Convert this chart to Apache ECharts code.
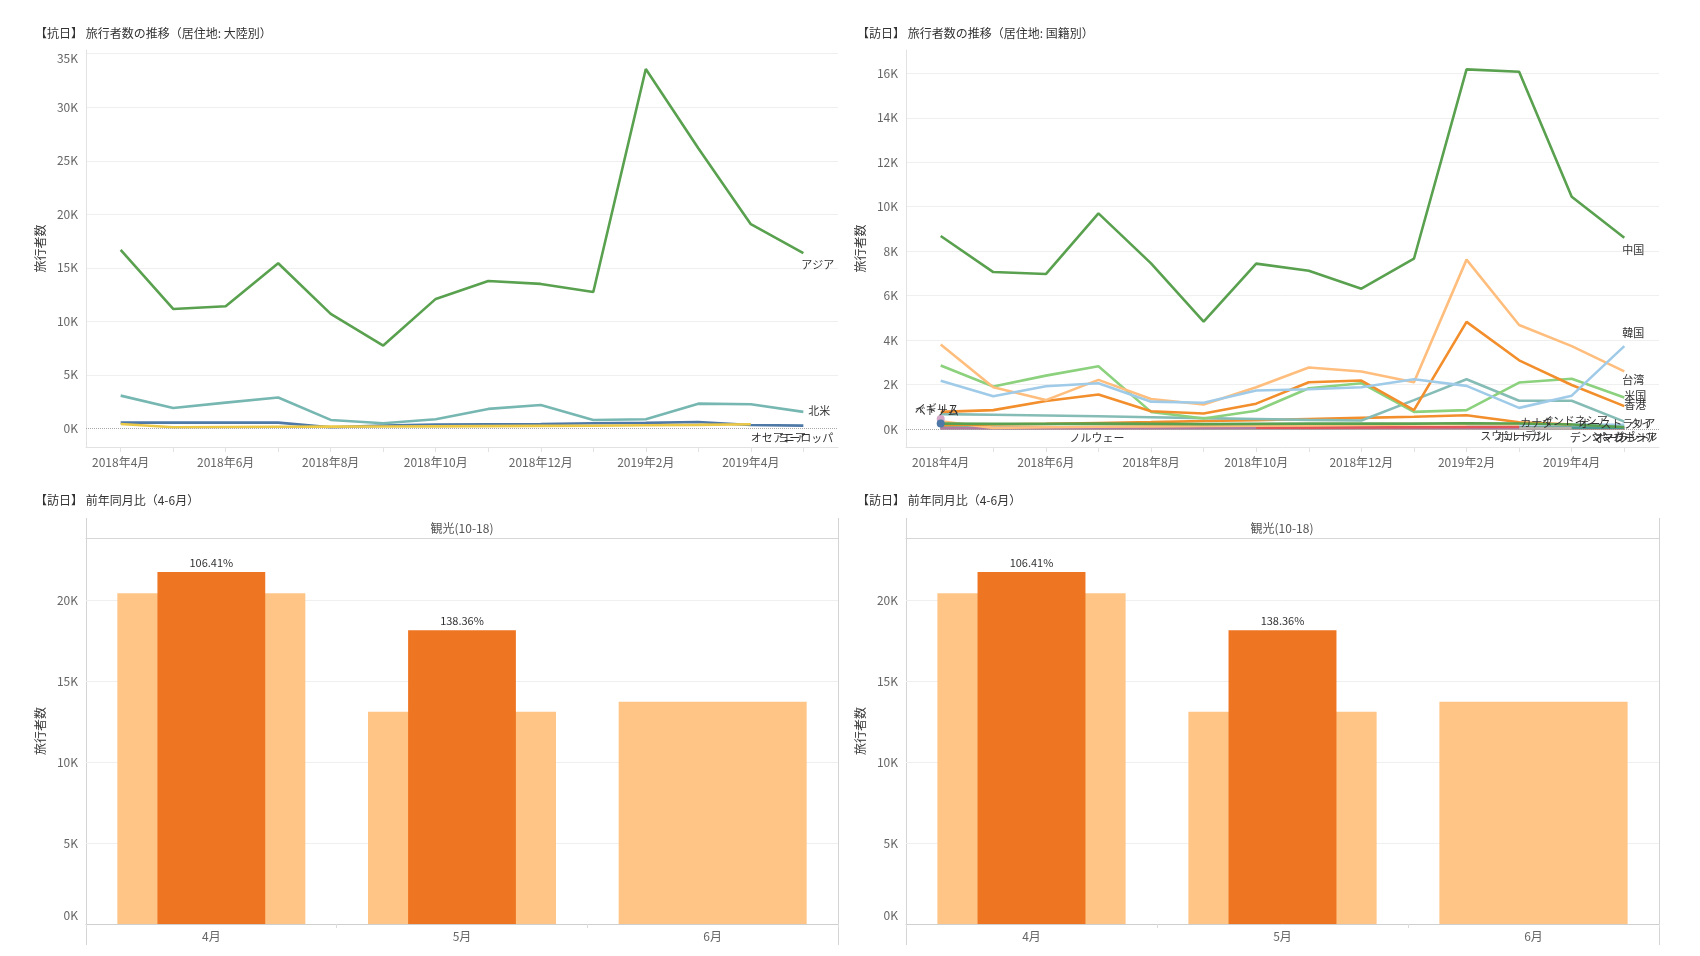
<!DOCTYPE html>
<html><head><meta charset="utf-8">
<script src="https://cdn.jsdelivr.net/npm/echarts@6/dist/echarts.min.js"></script>
<style>html,body{margin:0;padding:0;background:#fff}#c{width:1700px;height:956px}</style>
</head><body><div id="c"></div>
<script>
// ---------------- DATA ----------------
const months = ['2018年4月','2018年5月','2018年6月','2018年7月','2018年8月','2018年9月','2018年10月','2018年11月','2018年12月','2019年1月','2019年2月','2019年3月','2019年4月','2019年5月'];
const monthLabelIdx = [0, 2, 4, 6, 8, 10, 12];

// 【抗日】 continent
const asia         = [16670, 11150, 11400, 15420, 10690, 7730, 12090, 13770, 13490, 12740, 33580, 26170, 19070, 16360];
const northAmerica = [3050, 1900, 2400, 2870, 780, 470, 840, 1810, 2180, 780, 840, 2300, 2240, 1530];
const europe       = [530, 530, 530, 530, 100, 250, 340, 370, 400, 470, 500, 590, 310, 250];
const oceania      = [400, 90, 120, 140, 150, 160, 180, 200, 220, 240, 280, 320, 370, null];
const tlTicks = [0, 5000, 10000, 15000, 20000, 25000, 30000, 35000];

// 【訪日】 nationality
const china     = [8680, 7060, 6970, 9700, 7450, 4830, 7440, 7120, 6310, 7660, 16180, 16070, 10450, 8600];
const taiwan    = [3800, 1880, 1300, 2210, 1350, 1100, 1880, 2770, 2590, 2100, 7620, 4680, 3730, 2590];
const hongkong  = [770, 850, 1260, 1550, 800, 700, 1140, 2100, 2180, 850, 4820, 3090, 1980, 1030];
const usa       = [2860, 1910, 2400, 2820, 770, 470, 820, 1830, 2060, 770, 850, 2090, 2260, 1420];
const korea     = [2170, 1470, 1920, 2060, 1230, 1180, 1730, 1790, 1880, 2240, 1940, 950, 1500, 3730];
const australia = [670, 640, 610, 570, 530, 490, 450, 410, 380, 1300, 2240, 1270, 1270, 330];
const thailand  = [240, 230, 230, 240, 230, 220, 230, 240, 250, 240, 260, 250, 200, 90];
const indonesia = [170, 200, 230, 270, 310, 360, 400, 450, 500, 550, 620, 300, 200, null];
const canada    = [350, 50, 80, 100, 120, 140, 150, 160, 180, 200, 230, 200, null, null];
const philippines = [null, null, null, null, null, null, null, null, null, null, 210, 200, 200, 190];
const sweden    = [null, null, null, null, null, null, 60, 60, 70, 80, 90, 100, null, null];
const portugal  = [30, 30, 40, 40, 40, 50, 50, 50, 60, 60, 70, 60, null, null];
const denmark   = [20, 20, 20, 30, 30, 30, 30, 40, 40, 40, 50, 40, 30, null];
const poland    = [10, 10, 10, 10, 20, 20, 20, 20, 20, 30, 30, 30, 30, 20];
const singapore = [60, 50, 60, 60, 50, 50, 60, 60, 70, 70, 80, 70, 60, 60];
const malaysia  = [40, 40, 40, 40, 30, 30, 40, 40, 50, 50, 60, 50, 40, 40];
const norway    = [20, 15, 15, 10, null, null, null, null, null, null, null, null, null, null];
const uk        = [450, null, null, null, null, null, null, null, null, null, null, null, null, null];
const vietnam   = [250, null, null, null, null, null, null, null, null, null, null, null, null, null];
const trTicks = [0, 2000, 4000, 6000, 8000, 10000, 12000, 14000, 16000];

// 前年同月比
const barMonths     = ['4月', '5月', '6月'];
const prevYearVals  = [20440, 13120, 13730];
const currYearVals  = [21750, 18153, null];
const barTicks = [0, 5000, 10000, 15000, 20000];

// ---------------- STYLE ----------------
const FONT = "'Noto Sans CJK JP','Noto Sans',sans-serif";
const kfmt = v => (v / 1000) + 'K';

const tlSeries = [
  {name:'ヨーロッパ', data:europe, color:'#4e79a7', lab:[-25, 7]},
  {name:'オセアニア', data:oceania, color:'#edc948', lab:[0, 8]},
  {name:'北米', data:northAmerica, color:'#76b7b2', lab:[5, -7]},
  {name:'アジア', data:asia, color:'#59a14f', lab:[-2, 6]}
];
const trSeries = [
  {name:'ノルウェー', data:norway, color:'#79706e', lab:[-29, 4]},
  {name:'ポーランド', data:poland, color:'#d37295', lab:[-29, 4]},
  {name:'マレーシア', data:malaysia, color:'#9d7660', lab:[-22, 4]},
  {name:'シンガポール', data:singapore, color:'#499894', lab:[-33, 4]},
  {name:'デンマーク', data:denmark, color:'#bab0ac', lab:[-2, 4]},
  {name:'ポルトガル', data:portugal, color:'#b07aa1', lab:[-22, 4]},
  {name:'スウェーデン', data:sweden, color:'#e15759', lab:[-39, 4]},
  {name:'フィリピン', data:philippines, color:'#a0cbe8', lab:null},
  {name:'カナダ', data:canada, color:'#ffbe7d', lab:[1, -7]},
  {name:'インドネシア', data:indonesia, color:'#f28e2b', lab:[-30, -9]},
  {name:'タイ', data:thailand, color:'#59a14f', lab:[6, -9]},
  {name:'オーストラリア', data:australia, color:'#86bcb6', lab:[-46, -3]},
  {name:'米国', data:usa, color:'#8cd17d', lab:[0, -7]},
  {name:'香港', data:hongkong, color:'#f28e2b', lab:[0, -7]},
  {name:'台湾', data:taiwan, color:'#ffbe7d', lab:[-2, 3]},
  {name:'韓国', data:korea, color:'#a0cbe8', lab:[-2, -19]},
  {name:'中国', data:china, color:'#59a14f', lab:[-2, 6]},
  {name:'イギリス', data:uk, color:'#d4a6c8', lab:[-22, -12], dot:true},
  {name:'ベトナム', data:vietnam, color:'#4e79a7', lab:[-22, -14], dot:true}
];

function buildLine(s, gi, withZero) {
  const pts = [];
  s.data.forEach((v, i) => { if (v != null) pts.push([i, v]); });
  const data = pts.map((p, k) => {
    if (k === pts.length - 1 && s.lab) {
      return {value:p, label:{show:true, position:s.lab, formatter:s.name, color:'#333', fontSize:11, fontFamily:FONT}};
    }
    return {value:p};
  });
  const o = {
    type:'line', name:s.name, xAxisIndex:gi, yAxisIndex:gi, data,
    symbol:'circle', symbolSize: s.dot ? 8 : 0, showSymbol:true, showAllSymbol:true,
    lineStyle:{width:2.6, color:s.color}, itemStyle:{color:s.color},
    silent:true, animation:false
  };
  if (withZero) {
    o.markLine = {silent:true, symbol:'none', label:{show:false},
      lineStyle:{type:'dotted', color:'#a8a8a8', width:1}, data:[{yAxis:0}], animation:false};
  }
  return o;
}

// edge labels are nudged inside the pane, as in the original
function edgeFmt(topVal, bottomVal) {
  return v => {
    if (topVal != null && v === topVal) return '{t|' + kfmt(v) + '}';
    if (bottomVal != null && v === bottomVal) return '{b|' + kfmt(v) + '}';
    return kfmt(v);
  };
}
const edgeRich = {
  t:{padding:[10, 0, 0, 0], color:'#666', fontSize:12, fontFamily:FONT},
  b:{padding:[0, 0, 17, 0], color:'#666', fontSize:12, fontFamily:FONT}
};

function lineX(gi) {
  return {type:'value', gridIndex:gi, min:-0.66, max:13.66,
    axisLine:{show:true, onZero:false, lineStyle:{color:'#e2e2e2'}},
    axisTick:{show:true, customValues:months.map((m, i) => i), length:5, lineStyle:{color:'#e2e2e2'}},
    axisLabel:{customValues:monthLabelIdx, formatter:v => months[v], color:'#666', fontSize:12, fontFamily:FONT, margin:9},
    splitLine:{show:false}};
}
function lineY(gi, min, max, ticks, topShift) {
  return {type:'value', gridIndex:gi, min, max,
    axisLine:{show:true, onZero:false, lineStyle:{color:'#e2e2e2'}},
    axisTick:{show:false, customValues:ticks.slice(1)},
    axisLabel:{customValues:ticks, formatter:edgeFmt(topShift ? ticks[ticks.length - 1] : null, null), rich:edgeRich,
      color:'#666', fontSize:12, fontFamily:FONT, margin:8},
    splitLine:{show:true, lineStyle:{color:'#efefef', width:1}},
    name:'旅行者数', nameLocation:'middle', nameGap:40,
    nameTextStyle:{color:'#333', fontSize:12, fontFamily:FONT}};
}
function barY(gi) {
  return {type:'value', gridIndex:gi, min:0, max:23850,
    axisLine:{show:false},
    axisTick:{show:false, customValues:barTicks.slice(1)},
    axisLabel:{customValues:barTicks, formatter:edgeFmt(null, barTicks[0]), rich:edgeRich,
      color:'#666', fontSize:12, fontFamily:FONT, margin:8},
    splitLine:{show:true, lineStyle:{color:'#efefef', width:1}},
    name:'旅行者数', nameLocation:'middle', nameGap:40,
    nameTextStyle:{color:'#333', fontSize:12, fontFamily:FONT}};
}
function barXBottom(gi) {
  return {type:'category', gridIndex:gi, data:barMonths, position:'bottom',
    axisLine:{show:true, lineStyle:{color:'#cfcfcf'}},
    axisTick:{show:true, length:4, lineStyle:{color:'#dcdcdc'}},
    axisLabel:{color:'#666', fontSize:12, fontFamily:FONT, margin:6}};
}
function barXTop(gi) {
  return {type:'category', gridIndex:gi, data:barMonths, position:'top',
    axisLine:{show:true, lineStyle:{color:'#d6d6d6'}},
    axisTick:{show:false}, axisLabel:{show:false}};
}
function barSeries(xi, yi) {
  return [
    {type:'bar', xAxisIndex:xi, yAxisIndex:yi, data:prevYearVals, barWidth:'75%',
     itemStyle:{color:'#fec587'}, silent:true, animation:false},
    {type:'bar', xAxisIndex:xi + 1, yAxisIndex:yi, data:currYearVals, barWidth:'43%',
     itemStyle:{color:'#ee7522'}, silent:true, animation:false,
     label:{show:true, position:'top', distance:4, color:'#333', fontSize:11, fontFamily:FONT,
       formatter:p => (p.value / prevYearVals[p.dataIndex] * 100).toFixed(2) + '%'}}
  ];
}

const titleStyle = {color:'#333', fontSize:12, fontWeight:'normal', fontFamily:FONT};
const headStyle = {color:'#555', fontSize:12, fontWeight:'normal', fontFamily:FONT};
const frame = (x) => ({type:'line', silent:true, shape:{x1:x, y1:518, x2:x, y2:945}, style:{stroke:'#d4d4d4', lineWidth:1}});

const chart = echarts.init(document.getElementById('c'), null, {renderer:'canvas'});
const series = [];
tlSeries.forEach((s, k) => series.push(buildLine(s, 0, k === 0)));
trSeries.forEach((s, k) => series.push(buildLine(s, 1, k === 0)));
series.push(...barSeries(2, 2));
series.push(...barSeries(4, 3));

chart.setOption({
  animation:false,
  backgroundColor:'#fff',
  textStyle:{fontFamily:FONT},
  title:[
    {text:'【抗日】 旅行者数の推移（居住地: 大陸別）', left:35, top:27, textStyle:titleStyle, padding:0},
    {text:'【訪日】 旅行者数の推移（居住地: 国籍別）', left:857, top:27, textStyle:titleStyle, padding:0},
    {text:'【訪日】 前年同月比（4-6月）', left:35, top:494, textStyle:titleStyle, padding:0},
    {text:'【訪日】 前年同月比（4-6月）', left:857, top:494, textStyle:titleStyle, padding:0},
    {text:'観光(10-18)', left:462, top:522, textAlign:'center', textStyle:headStyle, padding:0},
    {text:'観光(10-18)', left:1282, top:522, textAlign:'center', textStyle:headStyle, padding:0}
  ],
  grid:[
    {left:86, right:862, top:50, bottom:509, containLabel:false, outerBoundsMode:'none'},
    {left:906, right:41, top:50, bottom:509, containLabel:false, outerBoundsMode:'none'},
    {left:86, right:862, top:538, bottom:32, containLabel:false, outerBoundsMode:'none'},
    {left:906, right:41, top:538, bottom:32, containLabel:false, outerBoundsMode:'none'}
  ],
  xAxis:[lineX(0), lineX(1), barXBottom(2), barXTop(2), barXBottom(3), barXTop(3)],
  yAxis:[lineY(0, -1750, 35350, tlTicks, true), lineY(1, -810, 17050, trTicks, false), barY(2), barY(3)],
  series,
  graphic:[frame(86.5), frame(838.5), frame(906.5), frame(1659.5)]
});
</script></body></html>
